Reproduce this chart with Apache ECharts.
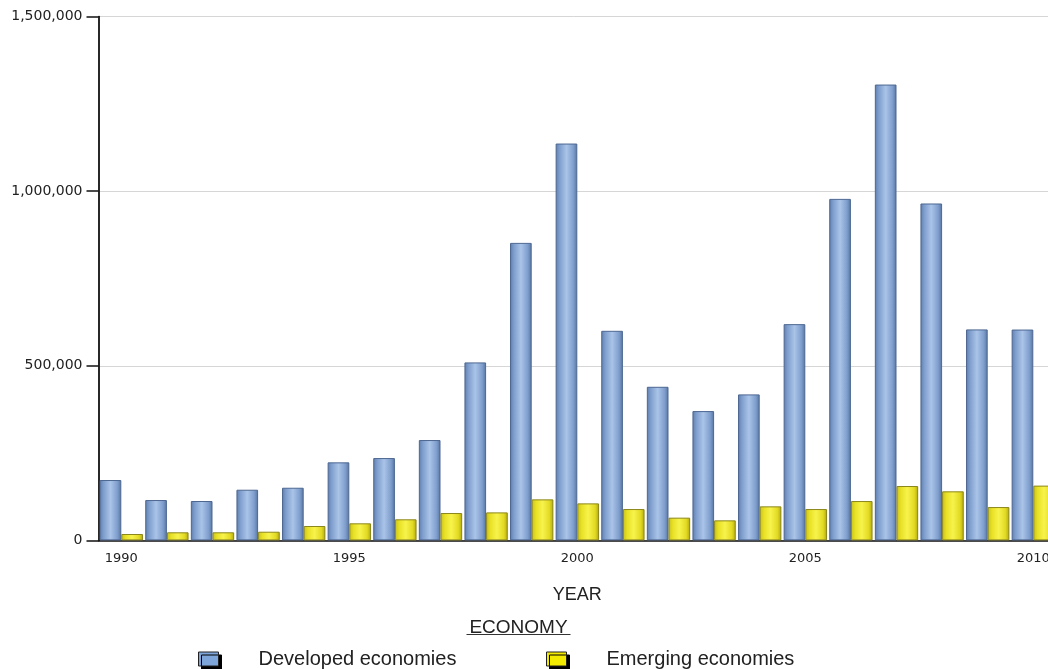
<!DOCTYPE html>
<html>
<head>
<meta charset="utf-8">
<script src="https://cdn.jsdelivr.net/npm/echarts@6/dist/echarts.min.js"></script>
<style>
html,body{margin:0;padding:0;background:#fff;}
#chart{width:1048px;height:669px;}
</style>
</head>
<body>
<div id="chart"></div>
<script>
// ---- data ----
var years = ['1990','1991','1992','1993','1994','1995','1996','1997','1998','1999','2000',
             '2001','2002','2003','2004','2005','2006','2007','2008','2009','2010'];
var developed = [172900, 115600, 112800, 145100, 150800, 223500, 235800, 287400, 509700, 852000, 1136500,
                 600200, 439900, 370300, 418100, 619300, 978000, 1305400, 964800, 604200, 603800];
var emerging = [18300, 23200, 23200, 24900, 41200, 48900, 60400, 78400, 80200, 117500, 106000,
                89800, 65100, 57400, 97500, 89800, 112700, 155700, 140500, 95500, 156900];
var yTicks = [0, 500000, 1000000, 1500000];
var seriesNames = ['Developed economies', 'Emerging economies'];
var axisTitleX = 'YEAR';
var legendTitle = 'ECONOMY';

function fmt(v){ return String(v).replace(/\B(?=(\d{3})+(?!\d))/g, ','); }

var blueGrad = new echarts.graphic.LinearGradient(0,0,1,0,[
  {offset:0, color:'#5e7eae'},{offset:0.18, color:'#7f9ecd'},{offset:0.5, color:'#aac4e8'},
  {offset:0.82, color:'#7f9ecd'},{offset:1, color:'#56749f'}]);
var yellowGrad = new echarts.graphic.LinearGradient(0,0,1,0,[
  {offset:0, color:'#c7c01c'},{offset:0.2, color:'#e8e126'},{offset:0.5, color:'#f8f34c'},
  {offset:0.82, color:'#e2da22'},{offset:1, color:'#b2aa10'}]);

var chart = echarts.init(document.getElementById('chart'), null, {renderer:'canvas'});
var legendCommon = {
  top: 649, padding:0, orient:'horizontal', icon:'rect', itemWidth:20, itemHeight:14,
  selectedMode:false,
  itemStyle:{borderColor:'#222', borderWidth:1, shadowColor:'#000', shadowBlur:0, shadowOffsetX:3, shadowOffsetY:3},
  formatter: function(n){ return '{gap|}' + n; },
  textStyle:{fontFamily:'"Liberation Sans", Arial, sans-serif', fontSize:20, color:'#222',
             rich:{gap:{width:35}}}
};
chart.setOption({
  animation:false,
  backgroundColor:'#fff',
  grid:{left:98.5, top:16.6, width:957.6, height:523.8, containLabel:false, outerBoundsMode:'none'},
  xAxis:{
    type:'category', data:years,
    name: axisTitleX, nameLocation:'middle', nameGap:46,
    nameTextStyle:{fontFamily:'"Liberation Sans", Arial, sans-serif', fontSize:18, color:'#222'},
    axisLine:{show:true, lineStyle:{color:'#111', width:1.5}},
    axisTick:{show:false},
    axisLabel:{interval:4, margin:12, fontFamily:'"DejaVu Sans", sans-serif', fontSize:13, color:'#222'},
    splitLine:{show:false}
  },
  yAxis:{
    type:'value', min:yTicks[0], max:yTicks[yTicks.length-1], interval:yTicks[1]-yTicks[0],
    axisLine:{show:true, lineStyle:{color:'#111', width:1.8}},
    axisTick:{show:true, length:12, lineStyle:{color:'#111', width:1.5}},
    axisLabel:{margin:16, formatter:fmt, fontFamily:'"DejaVu Sans", sans-serif', fontSize:14, color:'#222'},
    splitLine:{show:true, lineStyle:{color:'#d6d6d6', width:1}}
  },
  legend:[
    Object.assign({}, legendCommon, {left:198, data:[{name:seriesNames[0], itemStyle:{color:'#7fa6da'}}]}),
    Object.assign({}, legendCommon, {left:546, data:[{name:seriesNames[1], itemStyle:{color:'#f2ea00'}}]})
  ],
  graphic:[
    {type:'text', x:518.5, y:627.5, style:{text:legendTitle, align:'center', verticalAlign:'middle',
      font:'19px "Liberation Sans", Arial, sans-serif', fill:'#222'}},
    {type:'line', shape:{x1:466.5, y1:634.5, x2:570.5, y2:634.5}, style:{stroke:'#333', lineWidth:1}}
  ],
  series:[
    {name:seriesNames[0], type:'bar', data:developed, barGap:'0%', barCategoryGap:'5%',
     itemStyle:{color:blueGrad, borderColor:'#4d6791', borderWidth:1}},
    {name:seriesNames[1], type:'bar', data:emerging, barGap:'0%', barCategoryGap:'5%',
     itemStyle:{color:yellowGrad, borderColor:'#8c871a', borderWidth:1}}
  ]
});
</script>
</body>
</html>
